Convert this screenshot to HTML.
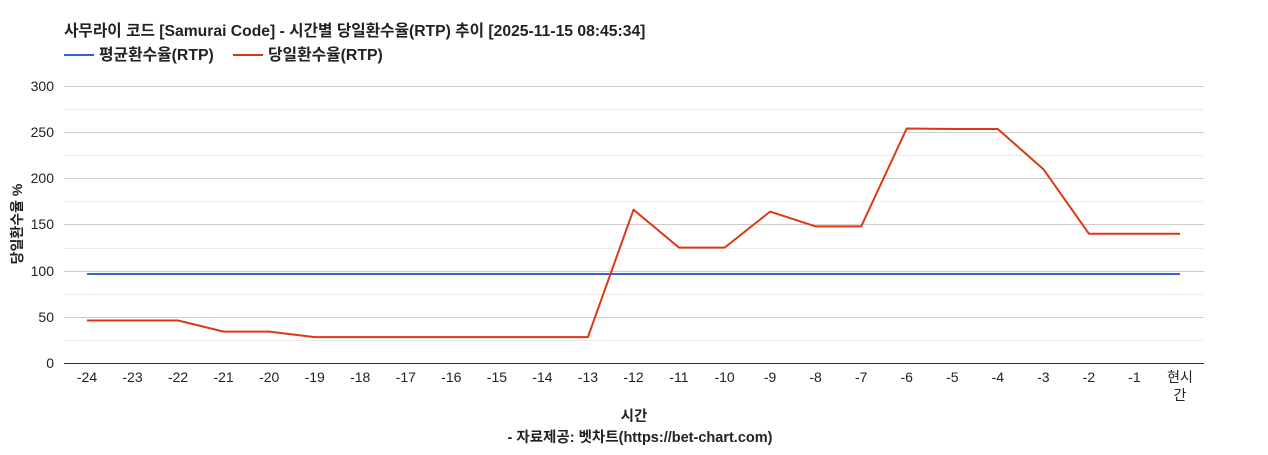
<!DOCTYPE html>
<html><head><meta charset="utf-8"><style>
body{margin:0;background:#fff;}
svg text{font-family:"Liberation Sans","Noto Sans CJK KR",sans-serif;}
</style></head><body>
<svg width="1268" height="450" viewBox="0 0 1268 450" xmlns="http://www.w3.org/2000/svg">
<text x="64" y="36" font-size="15.7" font-weight="bold" fill="#222">사무라이 코드 [Samurai Code] - 시간별 당일환수율(RTP) 추이 [2025-11-15 08:45:34]</text>
<line x1="64" y1="55" x2="94" y2="55" stroke="#3366cc" stroke-width="2"/>
<text x="99" y="60" font-size="15.8" font-weight="bold" fill="#222">평균환수율(RTP)</text>
<line x1="233" y1="55" x2="263" y2="55" stroke="#dc3912" stroke-width="2"/>
<text x="268" y="60" font-size="15.8" font-weight="bold" fill="#222">당일환수율(RTP)</text>
<g stroke="#ebebeb" stroke-width="1">
<line x1="64" x2="1204" y1="109.5" y2="109.5"/><line x1="64" x2="1204" y1="155.5" y2="155.5"/><line x1="64" x2="1204" y1="201.5" y2="201.5"/><line x1="64" x2="1204" y1="248.5" y2="248.5"/><line x1="64" x2="1204" y1="294.5" y2="294.5"/><line x1="64" x2="1204" y1="340.5" y2="340.5"/>
</g>
<g stroke="#cccccc" stroke-width="1">
<line x1="64" x2="1204" y1="86.5" y2="86.5"/><line x1="64" x2="1204" y1="132.5" y2="132.5"/><line x1="64" x2="1204" y1="178.5" y2="178.5"/><line x1="64" x2="1204" y1="224.5" y2="224.5"/><line x1="64" x2="1204" y1="271.5" y2="271.5"/><line x1="64" x2="1204" y1="317.5" y2="317.5"/>
</g>
<line x1="64" x2="1204" y1="363.5" y2="363.5" stroke="#333"/>
<g font-size="14" fill="#222" text-anchor="end">
<text x="54" y="91">300</text><text x="54" y="137">250</text><text x="54" y="183">200</text><text x="54" y="229">150</text><text x="54" y="276">100</text><text x="54" y="322">50</text><text x="54" y="368">0</text>
</g>
<text transform="translate(22,224) rotate(-90)" font-size="14" font-weight="bold" fill="#222" text-anchor="middle">당일환수율 %</text>
<g font-size="14" fill="#222" text-anchor="middle">
<text x="87" y="382">-24</text><text x="132.5" y="382">-23</text><text x="178.1" y="382">-22</text><text x="223.6" y="382">-21</text><text x="269.2" y="382">-20</text><text x="314.7" y="382">-19</text><text x="360.2" y="382">-18</text><text x="405.8" y="382">-17</text><text x="451.3" y="382">-16</text><text x="496.9" y="382">-15</text><text x="542.4" y="382">-14</text><text x="587.9" y="382">-13</text><text x="633.5" y="382">-12</text><text x="679" y="382">-11</text><text x="724.6" y="382">-10</text><text x="770.1" y="382">-9</text><text x="815.6" y="382">-8</text><text x="861.2" y="382">-7</text><text x="906.7" y="382">-6</text><text x="952.3" y="382">-5</text><text x="997.8" y="382">-4</text><text x="1043.3" y="382">-3</text><text x="1088.9" y="382">-2</text><text x="1134.4" y="382">-1</text><text x="1180" y="382">현시</text><text x="1180" y="400">간</text>
</g>
<text x="634" y="421" font-size="14.5" font-weight="bold" fill="#222" text-anchor="middle">시간</text>
<text x="640" y="442" font-size="14.5" font-weight="bold" fill="#222" text-anchor="middle">- 자료제공: 벳차트(https://bet-chart.com)</text>
<line x1="87" x2="1180" y1="274" y2="274" stroke="#3366cc" stroke-width="2"/>
<polyline fill="none" stroke="#dc3912" stroke-width="2" stroke-linejoin="round" points="87,320.5 132.5,320.5 178.1,320.5 223.6,331.6 269.2,331.6 314.7,337.1 360.2,337.1 405.8,337.1 451.3,337.1 496.9,337.1 542.4,337.1 587.9,337.1 633.5,209.7 679,247.6 724.6,247.6 770.1,211.6 815.6,226.4 861.2,226.4 906.7,128.5 952.3,129 997.8,129 1043.3,169.1 1088.9,233.7 1134.4,233.7 1180,233.7"/>
</svg>
</body></html>
